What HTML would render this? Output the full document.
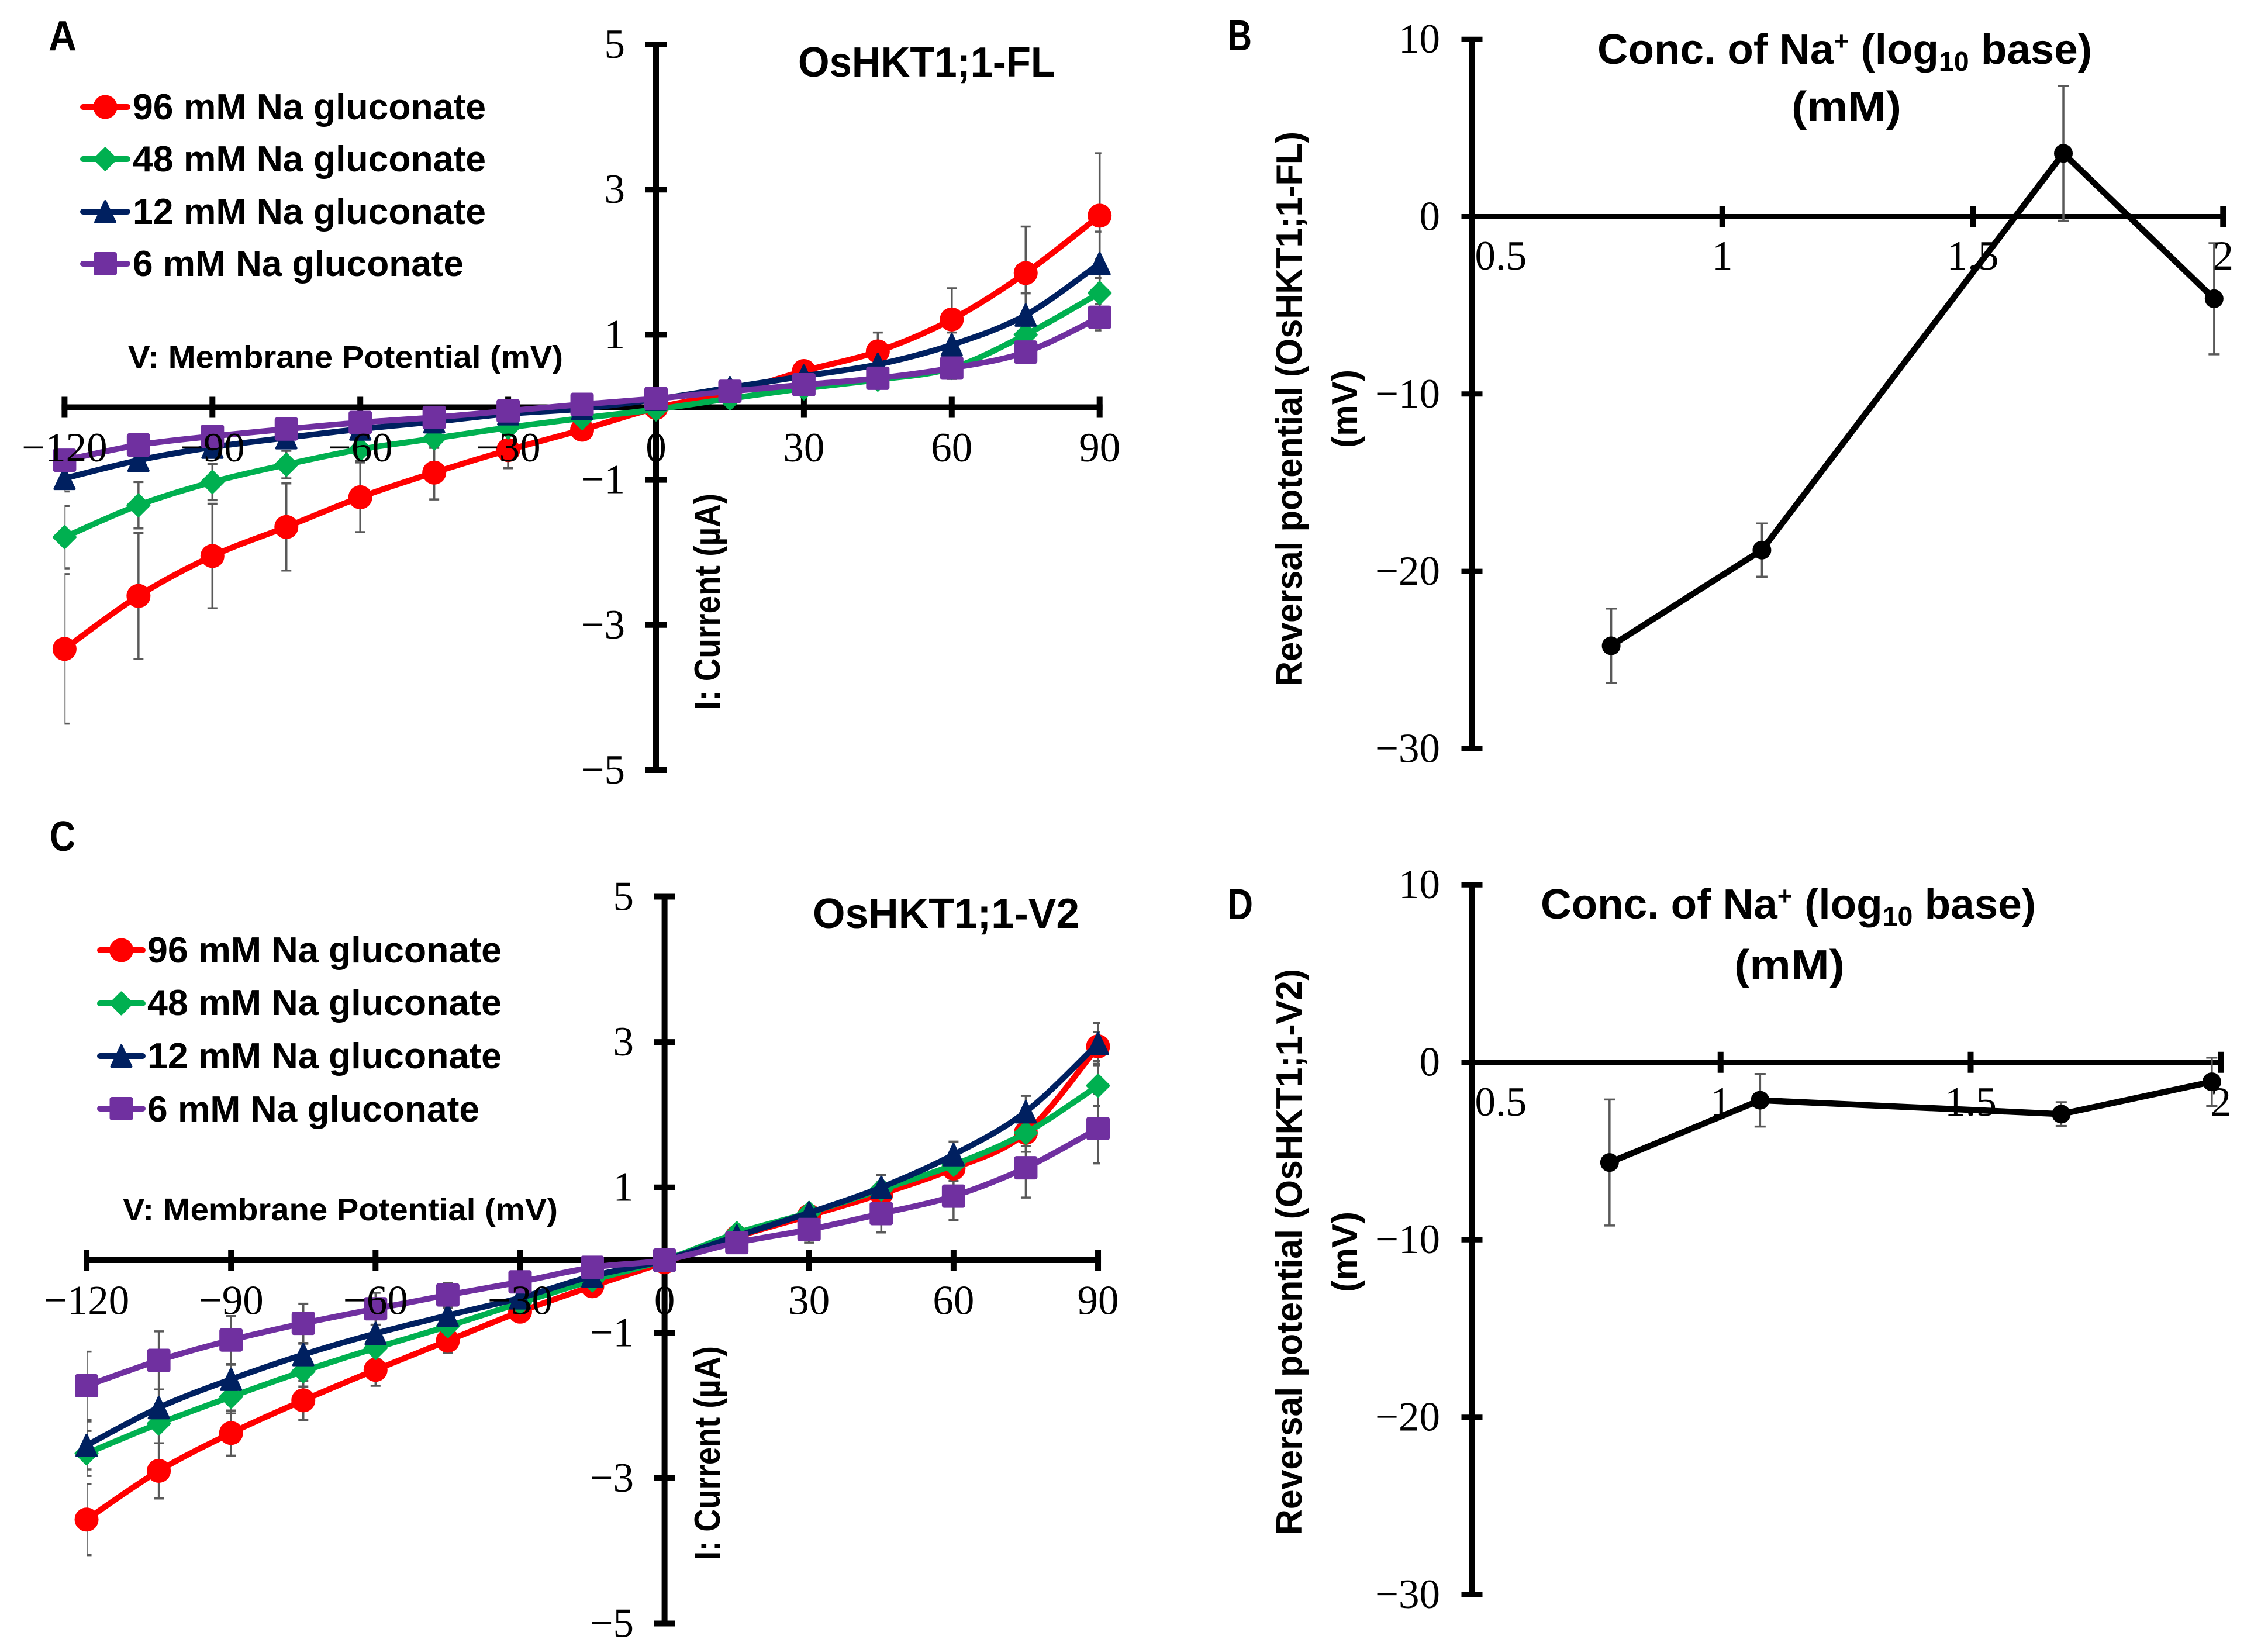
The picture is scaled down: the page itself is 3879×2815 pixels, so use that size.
<!DOCTYPE html>
<html lang="en">
<head>
<meta charset="utf-8">
<title>OsHKT1;1 current-voltage and reversal potential</title>
<style>
html,body{margin:0;padding:0;background:#fff;}
svg{display:block;}
.lab{font-family:"Liberation Sans",sans-serif;font-weight:bold;fill:#000;}
.tick{font-family:"Liberation Serif",serif;font-size:71px;fill:#000;}
</style>
</head>
<body>
<svg id="figure" xmlns="http://www.w3.org/2000/svg" width="3879" height="2815" viewBox="0 0 3879 2815">
<rect width="3879" height="2815" fill="#fff"/>
<g id="panel-a"></g>
<g id="panel-c"></g>
<g id="panel-b"></g>
<g id="panel-d"></g>

<g>
<text class="lab" x="83" y="86" font-size="72" textLength="48" lengthAdjust="spacingAndGlyphs">A</text>
<text class="lab" x="1365" y="131" font-size="72" textLength="440" lengthAdjust="spacingAndGlyphs">OsHKT1;1-FL</text>
<text class="lab" x="219" y="629" font-size="54" textLength="744" lengthAdjust="spacingAndGlyphs">V: Membrane Potential (mV)</text>
<text class="lab" transform="translate(1231,1214) rotate(-90)" font-size="62" textLength="370" lengthAdjust="spacingAndGlyphs">I: Current (µA)</text>
<text class="lab" x="227" y="204" font-size="62" textLength="604" lengthAdjust="spacingAndGlyphs">96 mM Na gluconate</text>
<text class="lab" x="227" y="293" font-size="62" textLength="604" lengthAdjust="spacingAndGlyphs">48 mM Na gluconate</text>
<text class="lab" x="227" y="383" font-size="62" textLength="604" lengthAdjust="spacingAndGlyphs">12 mM Na gluconate</text>
<text class="lab" x="227" y="472" font-size="62" textLength="566" lengthAdjust="spacingAndGlyphs">6 mM Na gluconate</text>
</g>

<g>
<text class="lab" x="85" y="1455" font-size="72" textLength="44" lengthAdjust="spacingAndGlyphs">C</text>
<text class="lab" x="1390" y="1587" font-size="72" textLength="456" lengthAdjust="spacingAndGlyphs">OsHKT1;1-V2</text>
<text class="lab" x="210" y="2087" font-size="54" textLength="744" lengthAdjust="spacingAndGlyphs">V: Membrane Potential (mV)</text>
<text class="lab" transform="translate(1231,2668) rotate(-90)" font-size="62" textLength="366" lengthAdjust="spacingAndGlyphs">I: Current (µA)</text>
<text class="lab" x="252" y="1646" font-size="62" textLength="606" lengthAdjust="spacingAndGlyphs">96 mM Na gluconate</text>
<text class="lab" x="252" y="1736" font-size="62" textLength="606" lengthAdjust="spacingAndGlyphs">48 mM Na gluconate</text>
<text class="lab" x="252" y="1827" font-size="62" textLength="606" lengthAdjust="spacingAndGlyphs">12 mM Na gluconate</text>
<text class="lab" x="252" y="1918" font-size="62" textLength="568" lengthAdjust="spacingAndGlyphs">6 mM Na gluconate</text>
</g>

<g>
<text class="lab" x="2100" y="86" font-size="74" textLength="41" lengthAdjust="spacingAndGlyphs">B</text>
<text class="lab" x="2732" y="109" font-size="72" textLength="846" lengthAdjust="spacingAndGlyphs">Conc. of Na<tspan font-size="44" dy="-24">+</tspan><tspan dy="24"> (log</tspan><tspan font-size="46" dy="12">10</tspan><tspan dy="-12"> base)</tspan></text>
<text class="lab" x="3064" y="207" font-size="72" textLength="188" lengthAdjust="spacingAndGlyphs">(mM)</text>
<text class="lab" transform="translate(2226,1174) rotate(-90)" font-size="62" textLength="949" lengthAdjust="spacingAndGlyphs">Reversal potential (OsHKT1;1-FL)</text>
<text class="lab" transform="translate(2321,766) rotate(-90)" font-size="62" textLength="134" lengthAdjust="spacingAndGlyphs">(mV)</text>
</g>

<g>
<text class="lab" x="2100" y="1572" font-size="74" textLength="43" lengthAdjust="spacingAndGlyphs">D</text>
<text class="lab" x="2635" y="1571" font-size="72" textLength="847" lengthAdjust="spacingAndGlyphs">Conc. of Na<tspan font-size="44" dy="-24">+</tspan><tspan dy="24"> (log</tspan><tspan font-size="46" dy="12">10</tspan><tspan dy="-12"> base)</tspan></text>
<text class="lab" x="2966" y="1675" font-size="72" textLength="189" lengthAdjust="spacingAndGlyphs">(mM)</text>
<text class="lab" transform="translate(2226,2625) rotate(-90)" font-size="62" textLength="968" lengthAdjust="spacingAndGlyphs">Reversal potential (OsHKT1;1-V2)</text>
<text class="lab" transform="translate(2321,2210) rotate(-90)" font-size="62" textLength="138" lengthAdjust="spacingAndGlyphs">(mV)</text>
</g>
</svg>

<script>
// ---- shared axis labels ----
const voltages = [-120,-105,-90,-75,-60,-45,-30,-15,0,15,30,45,60,75,90];
const voltageTicks = [-120,-90,-60,-30,0,30,60,90];
const currentTicks = [5,3,1,-1,-3,-5];
const concentrationLog = [0.778,1.079,1.681,1.982];
const logTicks = [0.5,1,1.5,2];
const reversalTicks = [10,0,-10,-20,-30];

// ---- panel A: OsHKT1;1-FL currents (uA) ----
const a96 = [-3.33,-2.60,-2.05,-1.65,-1.24,-0.90,-0.59,-0.31,-0.01,0.20,0.50,0.77,1.21,1.85,2.64];
const a96Err = [1.03,0.87,0.72,0.60,0.48,0.37,0.25,0.12,0.02,0.05,0.13,0.26,0.43,0.64,0.86];
const a48 = [-1.79,-1.35,-1.03,-0.79,-0.58,-0.43,-0.28,-0.15,-0.03,0.12,0.26,0.38,0.54,1.00,1.575];
const a48Err = [0.43,0.32,0.25,0.19,0.16,0.13,0.10,0.06,0.02,0.04,0.07,0.10,0.15,0.25,0.47];
const a12 = [-0.98,-0.73,-0.55,-0.42,-0.30,-0.20,-0.09,-0.02,0.11,0.27,0.43,0.59,0.86,1.27,1.98];
const a12Err = [0.18,0.15,0.12,0.10,0.08,0.07,0.05,0.03,0.02,0.04,0.06,0.10,0.17,0.30,0.44];
const a6 = [-0.73,-0.52,-0.40,-0.30,-0.21,-0.14,-0.05,0.04,0.12,0.22,0.31,0.40,0.54,0.76,1.24];
const a6Err = [0.14,0.12,0.10,0.08,0.07,0.06,0.04,0.03,0.02,0.03,0.04,0.06,0.08,0.12,0.18];

// ---- panel C: OsHKT1;1-V2 currents (uA) ----
const c96 = [-3.57,-2.90,-2.38,-1.93,-1.51,-1.11,-0.71,-0.36,-0.03,0.32,0.61,0.91,1.26,1.75,2.94];
const c96Err = [0.49,0.38,0.31,0.27,0.22,0.17,0.10,0.06,0.02,0.05,0.08,0.12,0.17,0.26,0.20];
const c48 = [-2.66,-2.25,-1.88,-1.53,-1.21,-0.91,-0.59,-0.28,0,0.37,0.65,0.97,1.31,1.75,2.40];
const c48Err = [0.31,0.27,0.23,0.21,0.15,0.12,0.08,0.05,0.02,0.05,0.07,0.10,0.12,0.18,0.28];
const c12 = [-2.55,-2.03,-1.64,-1.30,-1.01,-0.76,-0.52,-0.22,0,0.33,0.65,1.00,1.45,2.04,2.98];
const c12Err = [0.33,0.25,0.20,0.15,0.12,0.10,0.08,0.05,0.02,0.05,0.08,0.17,0.18,0.22,0.28];
const c6 = [-1.73,-1.38,-1.10,-0.87,-0.67,-0.48,-0.30,-0.10,0,0.24,0.42,0.64,0.88,1.27,1.81];
const c6Err = [0.47,0.40,0.33,0.27,0.22,0.16,0.10,0.06,0.02,0.10,0.18,0.26,0.33,0.41,0.48];

// ---- panels B and D: reversal potential (mV) ----
const bReversal = [-24.2,-18.8,3.57,-4.63];
const bReversalErr = [2.1,1.5,3.8,3.13];
const dReversal = [-5.65,-2.14,-2.92,-1.10];
const dReversalErr = [3.55,1.48,0.67,1.36];

const NS = 'http://www.w3.org/2000/svg';
const RED = '#FF0000', GREEN = '#00B050', NAVY = '#002060', PURPLE = '#7030A0', ERR = '#595959';

function make(parent, tag, attrs, text) {
  const el = document.createElementNS(NS, tag);
  for (const k in attrs) el.setAttribute(k, attrs[k]);
  if (text !== undefined) el.textContent = text;
  parent.appendChild(el);
  return el;
}
function fmt(v) { return v < 0 ? '\u2212' + Math.abs(v) : String(v); }

function smoothPath(pts) {
  let d = 'M' + pts[0][0] + ' ' + pts[0][1];
  for (let i = 0; i < pts.length - 1; i++) {
    const p0 = pts[Math.max(i - 1, 0)], p1 = pts[i], p2 = pts[i + 1], p3 = pts[Math.min(i + 2, pts.length - 1)];
    const t = 1 / 6;
    d += ' C' + (p1[0] + (p2[0] - p0[0]) * t) + ' ' + (p1[1] + (p2[1] - p0[1]) * t) + ' ' +
         (p2[0] - (p3[0] - p1[0]) * t) + ' ' + (p2[1] - (p3[1] - p1[1]) * t) + ' ' + p2[0] + ' ' + p2[1];
  }
  return d;
}

function drawMarker(parent, shape, color, x, y) {
  const r = 20;
  let el;
  if (shape === 'circle') {
    el = make(parent, 'circle', {cx: x, cy: y, r: r + 0.5, fill: color});
  } else if (shape === 'diamond') {
    const h = r - 1.5;
    el = make(parent, 'polygon', {points: (x) + ',' + (y - h) + ' ' + (x + h) + ',' + y + ' ' + (x) + ',' + (y + h) + ' ' + (x - h) + ',' + y, fill: color, stroke: color, 'stroke-width': 4, 'stroke-linejoin': 'round'});
  } else if (shape === 'triangle') {
    el = make(parent, 'polygon', {points: x + ',' + (y - r + 2) + ' ' + (x + r - 3) + ',' + (y + r - 2) + ' ' + (x - r + 3) + ',' + (y + r - 2), fill: color, stroke: color, 'stroke-width': 4, 'stroke-linejoin': 'round'});
  } else {
    el = make(parent, 'rect', {x: x - r + 1, y: y - r + 1, width: 2 * r - 2, height: 2 * r - 2, rx: 3, fill: color, stroke: color, 'stroke-width': 2});
  }
  return el;
}

function drawErrorBar(parent, x, yTop, yBottom, cap) {
  const g = make(parent, 'path', {d: 'M' + x + ' ' + yTop + ' V' + yBottom + ' M' + (x - cap) + ' ' + yTop + ' H' + (x + cap) + ' M' + (x - cap) + ' ' + yBottom + ' H' + (x + cap), fill: 'none', stroke: ERR, 'stroke-width': 3.5});
  return g;
}

function drawIV(panel) {
  const root = document.getElementById(panel.id);
  const xPos = v => panel.x0 + v * panel.xUnit;
  const yPos = v => panel.y0 - v * panel.yUnit;

  const clipId = panel.id + '-clip';
  const defs = make(root, 'defs', {});
  const clip = make(defs, 'clipPath', {id: clipId});
  make(clip, 'rect', {x: xPos(voltageTicks[0]), y: 0, width: xPos(90) + 3 - xPos(voltageTicks[0]), height: 2815});

  const xAxis = make(root, 'line', {x1: xPos(-120) - 5, x2: xPos(90) + 5, y1: panel.y0, y2: panel.y0, stroke: '#000', 'stroke-width': 10});
  
  
  const yAxis = make(root, 'line', {x1: panel.x0, x2: panel.x0, y1: yPos(5) - 5, y2: yPos(-5) + 5, stroke: '#000', 'stroke-width': 10});
  
  

  voltageTicks.forEach(function (v) {
    const t = make(root, 'line', {x1: xPos(v), x2: xPos(v), y1: panel.y0 - 18, y2: panel.y0 + 18, stroke: '#000', 'stroke-width': 10});
    
    
  });
  currentTicks.forEach(function (v) {
    const t = make(root, 'line', {x1: panel.x0 - 18, x2: panel.x0 + 18, y1: yPos(v), y2: yPos(v), stroke: '#000', 'stroke-width': 10});
    
    
  });

  const errGroup = make(root, 'g', {'clip-path': 'url(#' + clipId + ')'});
  
  
  panel.series.forEach(function (s) {
    s.values.forEach(function (v, i) {
      const e = drawErrorBar(errGroup, xPos(voltages[i]), yPos(v + s.errors[i]), yPos(v - s.errors[i]), 8.5);
      
      
    });
  });

  panel.series.forEach(function (s) {
    const pts = s.values.map(function (v, i) { return [xPos(voltages[i]), yPos(v)]; });
    const line = make(root, 'path', {d: smoothPath(pts), fill: 'none', stroke: s.color, 'stroke-width': 10, 'stroke-linejoin': 'round'});
    
    
    pts.forEach(function (p) {
      const m = drawMarker(root, s.shape, s.color, p[0], p[1]);
      
      
    });
  });

  panel.series.forEach(function (s, i) {
    const ly = panel.legendY[i];
    const l = make(root, 'line', {x1: panel.legendX1, x2: panel.legendX2, y1: ly, y2: ly, stroke: s.color, 'stroke-width': 10, 'stroke-linecap': 'round'});
    
    
    const m = drawMarker(root, s.shape, s.color, (panel.legendX1 + panel.legendX2) / 2, ly);
    
    
  });

  voltageTicks.forEach(function (v) {
    const t = make(root, 'text', {class: 'tick', x: xPos(v), y: panel.y0 + panel.xLabelDy, 'text-anchor': 'middle'}, fmt(v));
    
    
  });
  currentTicks.forEach(function (v) {
    const t = make(root, 'text', {class: 'tick', x: panel.yLabelRight, y: yPos(v) + 23, 'text-anchor': 'end'}, fmt(v));
    
    
  });
}

function drawReversal(panel) {
  const root = document.getElementById(panel.id);
  const xPos = v => panel.xLeft + (v - 0.5) * panel.xUnit;
  const yPos = v => panel.y0 - v * panel.yUnit;

  const xAxis = make(root, 'line', {x1: xPos(0.5), x2: xPos(2) + 5, y1: panel.y0, y2: panel.y0, stroke: '#000', 'stroke-width': 9});
  
  
  const yAxis = make(root, 'line', {x1: panel.axisX, x2: panel.axisX, y1: yPos(10) - 4, y2: yPos(-30) + 4, stroke: '#000', 'stroke-width': 10});
  
  

  logTicks.slice(1).forEach(function (v) {
    const t = make(root, 'line', {x1: xPos(v), x2: xPos(v), y1: panel.y0 - 18, y2: panel.y0 + 18, stroke: '#000', 'stroke-width': 10});
    
    
  });
  reversalTicks.forEach(function (v) {
    const t = make(root, 'line', {x1: panel.axisX - 18, x2: panel.axisX + 18, y1: yPos(v), y2: yPos(v), stroke: '#000', 'stroke-width': 9});
    
    
  });

  panel.values.forEach(function (v, i) {
    const e = drawErrorBar(root, xPos(concentrationLog[i]), yPos(v + panel.errors[i]), yPos(v - panel.errors[i]), 9.5);
    
    
  });

  const pts = panel.values.map(function (v, i) { return [xPos(concentrationLog[i]), yPos(v)]; });
  const line = make(root, 'polyline', {points: pts.map(function (p) { return p.join(','); }).join(' '), fill: 'none', stroke: '#000', 'stroke-width': 10.5});
  
  
  pts.forEach(function (p) {
    const m = make(root, 'circle', {cx: p[0], cy: p[1], r: 16, fill: '#000'});
    
    
  });

  logTicks.forEach(function (v) {
    const isFirst = v === logTicks[0];
    const t = make(root, 'text', {class: 'tick', x: isFirst ? panel.axisX + 5 : xPos(v), y: panel.xLabelY, 'text-anchor': isFirst ? 'start' : 'middle'}, String(v));
    
    
  });
  reversalTicks.forEach(function (v) {
    const t = make(root, 'text', {class: 'tick', x: panel.yLabelRight, y: yPos(v) + 23, 'text-anchor': 'end'}, fmt(v));
    
    
  });
}

drawIV({
  id: 'panel-a', x0: 1122, xUnit: 8.43, y0: 696.5, yUnit: 124.1, xLabelDy: 92.5, yLabelRight: 1069,
  legendX1: 142, legendX2: 218, legendY: [183, 272, 362, 451],
  series: [
    {values: a96, errors: a96Err, color: RED, shape: 'circle'},
    {values: a48, errors: a48Err, color: GREEN, shape: 'diamond'},
    {values: a12, errors: a12Err, color: NAVY, shape: 'triangle'},
    {values: a6, errors: a6Err, color: PURPLE, shape: 'square'}
  ]
});
drawIV({
  id: 'panel-c', x0: 1136.6, xUnit: 8.238, y0: 2155, yUnit: 124.3, xLabelDy: 92.5, yLabelRight: 1084,
  legendX1: 171, legendX2: 244, legendY: [1625, 1716, 1806, 1896],
  series: [
    {values: c96, errors: c96Err, color: RED, shape: 'circle'},
    {values: c48, errors: c48Err, color: GREEN, shape: 'diamond'},
    {values: c12, errors: c12Err, color: NAVY, shape: 'triangle'},
    {values: c6, errors: c6Err, color: PURPLE, shape: 'square'}
  ]
});
drawReversal({
  id: 'panel-b', xLeft: 2517.5, axisX: 2517.5, xUnit: 856.5, y0: 370.5, yUnit: 30.33, xLabelY: 461, yLabelRight: 2463,
  values: bReversal, errors: bReversalErr
});
drawReversal({
  id: 'panel-d', xLeft: 2515, axisX: 2517.5, xUnit: 855.5, y0: 1816.7, yUnit: 30.35, xLabelY: 1908, yLabelRight: 2463,
  values: dReversal, errors: dReversalErr
});
</script>
</body>
</html>
